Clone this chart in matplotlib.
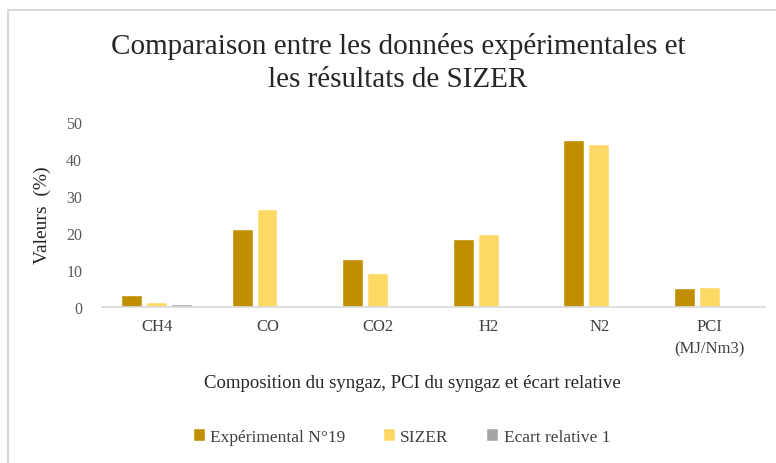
import matplotlib.pyplot as plt
from matplotlib.patches import Rectangle
import numpy as np

categories = ["CH4", "CO", "CO2", "H2", "N2", "PCI\n(MJ/Nm3)"]
experimental = [3.0, 20.8, 12.7, 18.0, 44.7, 4.9]
sizer = [1.0, 26.2, 8.8, 19.4, 43.8, 5.2]
ecart = [0.7, 0, 0, 0, 0, 0]
series_names = ["Expérimental N°19", "SIZER", "Ecart relative 1"]

plt.rcParams['font.family'] = ['Liberation Serif', 'DejaVu Serif']

fig = plt.figure(figsize=(7.76, 4.64), dpi=100)
ax = fig.add_axes([0.131, 0.336, 0.855, 0.3996])

x = np.arange(len(categories))
w = 0.18
off = 0.225
colors = ["#BF8F00", "#FFD966", "#A5A5A5"]
for i, vals in enumerate([experimental, sizer, ecart]):
    ax.bar(x + (i - 1) * off, vals, w, color=colors[i], label=series_names[i],
           edgecolor="white", linewidth=0.3)

ax.set_xlim(-0.5, len(categories) - 0.5)
ax.set_ylim(0, 50)
ax.set_yticks([0, 10, 20, 30, 40, 50])
ax.set_xticks(x)
ax.set_xticklabels(categories, fontsize=12, color="#404040", linespacing=1.5)
ax.tick_params(axis='y', labelsize=11.5, labelcolor="#595959", length=0, pad=14)
ax.tick_params(axis='x', length=0, pad=8)
for s in ["top", "right", "left"]:
    ax.spines[s].set_visible(False)
ax.spines["bottom"].set_color("#D9D9D9")
ax.spines["bottom"].set_linewidth(1.2)

ax.set_ylabel("Valeurs  (%)", fontsize=14, color="#262626", labelpad=11)
fig.text(0.531, 1 - 383 / 464, "Composition du syngaz, PCI du syngaz et écart relative",
         ha="center", va="center", fontsize=13.5, color="#262626")
fig.text(0.513, 1 - 63 / 464, "Comparaison entre les données expérimentales et\nles résultats de SIZER",
         ha="center", va="center", fontsize=21, color="#262626", linespacing=1.35)

fig.legend(loc="center", bbox_to_anchor=(0.518, 1 - 438 / 464), ncol=3, frameon=False,
           fontsize=12.5, handlelength=0.65, handleheight=0.65, handletextpad=0.3,
           columnspacing=2.2, labelcolor="#404040")

fig.add_artist(Rectangle((8 / 776, -0.5), 2, 1.5 - 11 / 464, transform=fig.transFigure,
                         fill=False, edgecolor="#D9D9D9", linewidth=1.5))

fig.savefig("out.png", dpi=100)
